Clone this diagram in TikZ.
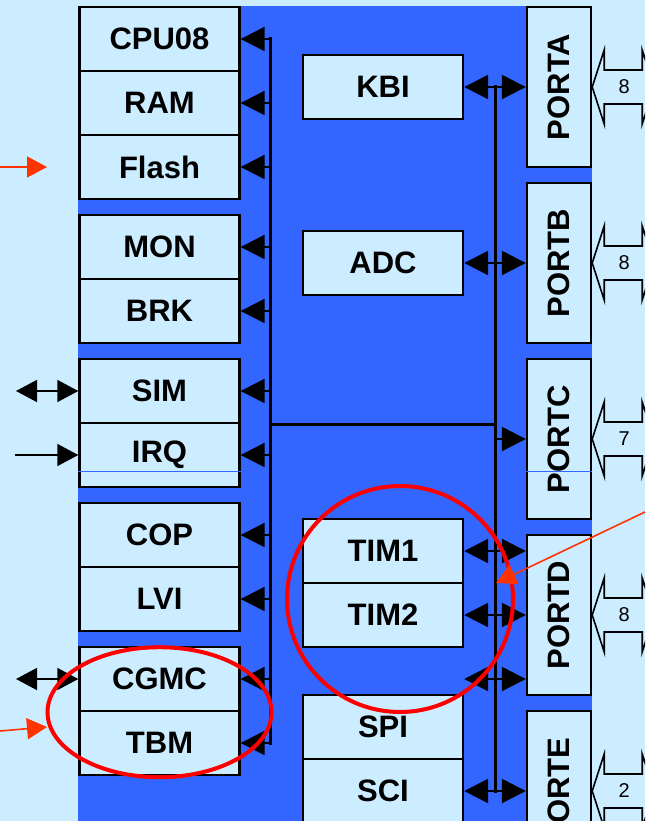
\documentclass[tikz,border=0pt]{standalone}
\usepackage{fontspec}
\setmainfont{Liberation Sans}
\usepackage{graphicx}
\usepackage{tikz}
\usetikzlibrary{arrows.meta,calc}
\definecolor{pale}{HTML}{CCECFF}
\definecolor{chipblue}{HTML}{3366FF}
\definecolor{ring}{HTML}{FF0000}
\definecolor{pointer}{HTML}{FF3300}

\begin{document}
\begin{tikzpicture}[x=1pt,y=-1pt,
    blk/.style={draw,fill=pale,line width=2.4pt,minimum width=160pt,minimum height=64pt,
      inner sep=0pt,font=\fontsize{31}{31}\selectfont\bfseries},
    portblk/.style={blk,minimum width=64pt,minimum height=160pt},
    busline/.style={line width=3pt,line cap=rect},
    busarr/.style={line width=2.5pt,-{Triangle[length=24pt,width=24pt]}},
    busdbl/.style={line width=2.5pt,{Triangle[length=24pt,width=24pt]}-{Triangle[length=24pt,width=24pt]}},
    portbus/.style={draw,fill=pale,line width=1.6pt},
    numlbl/.style={font=\fontsize{20}{20}\selectfont,inner sep=0pt},
    extarr/.style={line width=1.5pt,-{Triangle[length=21pt,width=22pt]}},
    extdbl/.style={line width=1.5pt,{Triangle[length=21pt,width=22pt]}-{Triangle[length=21pt,width=22pt]}},
    notearr/.style={pointer,line width=1.6pt,-{Triangle[length=20pt,width=21pt]}},
    hilite/.style={ring,line width=4pt}]
  \useasboundingbox (0,0) rectangle (645,821);
  \clip (0,0) rectangle (645,821);
  % background and chip area
  \fill[pale] (0,0) rectangle (645,821);
  \fill[chipblue] (78,6) rectangle (592,840);
  % left column
  \foreach \n/\t/\y in {cpu/CPU08/39, ram/RAM/103, flash/Flash/167, mon/MON/247, brk/BRK/311,
      sim/SIM/391, irq/IRQ/455, cop/COP/535, lvi/LVI/599, cgmc/CGMC/679, tbm/TBM/743} {
    \node[blk] (\n) at (159.5,\y) {\t};
  }
  % middle column
  \foreach \n/\t/\y in {kbi/KBI/87, adc/ADC/263, tim1/TIM1/551, tim2/TIM2/615, spi/SPI/727, sci/SCI/791} {
    \node[blk] (\n) at (383,\y) {\t};
  }
  % ports
  \foreach \n/\t/\y in {porta/PORTA/87, portb/PORTB/263, portc/PORTC/439, portd/PORTD/615, porte/PORTE/791} {
    \node[portblk] (\n) at (559,\y) {\rotatebox{90}{\t}};
  }
  \draw[chipblue,line width=0.8pt] ([yshift=-16pt]irq.west) -- ([yshift=-16pt]irq.east);
  \draw[chipblue,line width=0.8pt] ([yshift=-32pt]portc.west) -- ([yshift=-32pt]portc.east);
  % buses
  \coordinate (lbus) at (270.5,0);
  \coordinate (mbus) at (495,0);
  \draw[busline] (cpu.east -| lbus) -- (tbm.east -| lbus);
  \draw[busline] (kbi.east -| mbus) -- (sci.east -| mbus);
  \draw[busline] (sim.south -| lbus) -- (sim.south -| mbus);
  \foreach \b in {cpu,ram,flash,mon,brk,sim,irq,cop,lvi,cgmc,tbm} {
    \draw[busarr] (\b.east -| lbus) -- (\b.east);
  }
  \coordinate (spare) at (cgmc.east -| sci.east);
  \draw[busdbl] (kbi.east) -- (porta.west);
  \draw[busdbl] (adc.east) -- (portb.west);
  \draw[busarr] (portc.west -| mbus) -- (portc.west);
  \draw[busdbl] (tim1.east) -- (tim1.east -| portd.west);
  \draw[busdbl] (tim2.east) -- (portd.west);
  \draw[busdbl] (spare) -- (spare -| portd.west);
  \draw[busdbl] (sci.east) -- (porte.west);
  % port pins
  \foreach \p/\w in {porta/8, portb/8, portc/7, portd/8, porte/2} {
    \draw[portbus] (\p.east) -- ++(12,-37) -- ++(0,20) -- ++(38,0) -- ++(0,-20) -- ++(12,37)
      -- ++(-12,37) -- ++(0,-20) -- ++(-38,0) -- ++(0,20) -- cycle;
    \node[numlbl] (\p-w) at ([xshift=32pt]\p.east) {\w};
  }
  % external signals
  \coordinate (simext) at (16,391);
  \coordinate (irqext) at (15,455);
  \coordinate (cgmcext) at (16,679);
  \draw[extdbl] (simext) -- (sim.west);
  \draw[extarr] (irqext) -- (irq.west);
  \draw[extdbl] (cgmcext) -- (cgmc.west);
  % highlights
  \draw[hilite] (cgmc.south) ellipse [x radius=112, y radius=65];
  \draw[hilite] (400,599) circle [radius=113];
  \coordinate (flashsrc) at (0,167);
  \coordinate (flashtip) at (47,167);
  \coordinate (tbmsrc) at (0,731);
  \coordinate (tbmtip) at (47,727);
  \coordinate (timsrc) at (645,512);
  \coordinate (timtip) at (496,583);
  \draw[notearr] (flashsrc) -- (flashtip);
  \draw[notearr] (tbmsrc) -- (tbmtip);
  \draw[notearr] (timsrc) -- (timtip);
\end{tikzpicture}
\end{document}
